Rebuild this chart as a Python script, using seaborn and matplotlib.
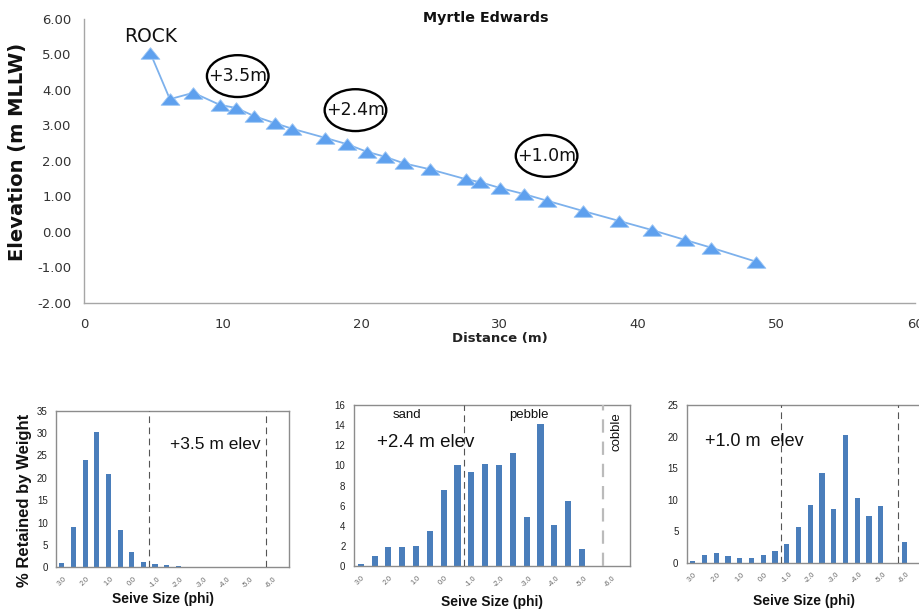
import matplotlib
matplotlib.use("Agg")
import matplotlib.pyplot as plt
from matplotlib.patches import Ellipse
import numpy as np
import pandas as pd
import seaborn as sns

# ---------------- data ----------------
distance = [4.8, 6.2, 7.9, 9.8, 11.0, 12.3, 13.8, 15.0, 17.4, 19.0, 20.4, 21.7, 23.1,
            25.0, 27.6, 28.6, 30.0, 31.8, 33.4, 36.0, 38.6, 41.0, 43.4, 45.3, 48.5]
elevation = [5.03, 3.74, 3.92, 3.58, 3.49, 3.26, 3.06, 2.91, 2.65, 2.47, 2.26, 2.12, 1.93,
             1.76, 1.48, 1.40, 1.24, 1.06, 0.88, 0.59, 0.31, 0.05, -0.23, -0.45, -0.84]

site_labels = ["+3.5m", "+2.4m", "+1.0m"]
site_label_x = [11.1, 19.6, 33.4]
site_label_y = [4.39, 3.43, 2.14]

phi_classes = ["3.0", "2.5", "2.0", "1.5", "1.0", "0.5", "0.0", "-0.5", "-1.0", "-1.5",
               "-2.0", "-2.5", "-3.0", "-3.5", "-4.0", "-4.5", "-5.0", "-5.5", "-6.0", "-6.5"]
phi_tick_labels = ["3.0", "2.0", "1.0", "0.0", "-1.0", "-2.0", "-3.0", "-4.0", "-5.0", "-6.0"]

pct_35 = [1.0, 9.0, 24.0, 30.2, 20.8, 8.3, 3.5, 1.2, 0.7, 0.5, 0.3, 0, 0, 0, 0, 0, 0, 0, 0, 0]
pct_24 = [0.2, 1.0, 1.9, 1.9, 2.0, 3.5, 7.6, 10.0, 9.3, 10.1, 10.0, 11.2, 4.9, 14.1, 4.1,
          6.5, 1.7, 0, 0, 0]
pct_10 = [0.2, 1.2, 1.6, 1.0, 0.7, 0.7, 1.2, 1.9, 2.9, 5.6, 9.1, 14.2, 8.5, 20.3, 10.3,
          7.4, 9.0, 0, 3.3, 0]

panel_titles = ["+3.5 m elev", "+2.4 m elev", "+1.0 m  elev"]

# ---------------- style ----------------
sns.set_style("white")
plt.rcParams["font.family"] = ["DejaVu Sans"]

fig = plt.figure(figsize=(9.19, 6.11), dpi=100)

# ---------------- main profile ----------------
ax = fig.add_axes([84 / 919, 1 - 302.7 / 611, 831 / 919, 283.7 / 611])
prof = pd.DataFrame({"Distance": distance, "Elevation": elevation})
tri = [(0, 0.62), (-1, -0.62), (1, -0.62), (0, 0.62)]
sns.lineplot(data=prof, x="Distance", y="Elevation", ax=ax, sort=False,
             color="#7DB1EC", linewidth=1.3, marker=tri, markersize=13.5,
             markerfacecolor="#5EA0EE", markeredgecolor="#9CC6F5", markeredgewidth=0.6,
             zorder=3)

ax.set_xlim(0, 60)
ax.set_ylim(-2, 6)
ax.set_xticks(np.arange(0, 61, 10))
ax.set_yticks(np.arange(-2, 6.01, 1))
ax.set_yticklabels([f"{v:.2f}" for v in np.arange(-2, 6.01, 1)])
for s in ["top", "right"]:
    ax.spines[s].set_visible(False)
for s in ["left", "bottom"]:
    ax.spines[s].set_color("#A6A6A6")
    ax.spines[s].set_linewidth(1.0)
ax.tick_params(axis="both", which="major", labelsize=9.5, colors="#A6A6A6",
               labelcolor="#333333", length=5, width=1.0, direction="out")
ax.tick_params(axis="x", pad=6)
ax.tick_params(axis="y", pad=4)
ax.set_xlabel("Distance (m)", fontsize=9.5, fontweight="bold", color="#222222")
ax.xaxis.set_label_coords(0.5, -0.103)
ax.set_ylabel("Elevation (m MLLW)", fontsize=14, fontweight="bold", color="#111111")
ax.yaxis.set_label_coords(-0.0686, 0.53)

fig.text(486 / 919, 1 - 18 / 611, "Myrtle Edwards", ha="center", va="center",
         fontsize=10.3, fontweight="bold", color="#111111")

ax.text(4.84, 5.52, "ROCK", ha="center", va="center", fontsize=13.5, color="#111111")
for lab, lx, ly in zip(site_labels, site_label_x, site_label_y):
    ax.add_patch(Ellipse((lx, ly), width=4.45, height=1.18, fill=False,
                         edgecolor="black", linewidth=1.7, zorder=4))
    ax.text(lx, ly, lab, ha="center", va="center", fontsize=12.5, color="#111111",
            zorder=5)

# ---------------- sieve histograms ----------------
panels = [
    (pct_35, [56 / 919, 1 - 567.3 / 611, 233 / 919, 156.6 / 611], 35, 5, 0.46, -0.158),
    (pct_24, [353.8 / 919, 1 - 566 / 611, 276.6 / 919, 161 / 611], 16, 2, 0.5, -0.178),
    (pct_10, [686.8 / 919, 1 - 562.7 / 611, 235.2 / 919, 157.7 / 611], 25, 5, 0.5, -0.198),
]
arial = ["Liberation Sans", "DejaVu Sans"]
bar_color = "#4A7EBB"

axes_small = []
for i, (vals, pos, ymax, ystep, lx, ly) in enumerate(panels):
    a = fig.add_axes(pos)
    df = pd.DataFrame({"phi": phi_classes, "pct": vals})
    sns.barplot(data=df, x="phi", y="pct", order=phi_classes, ax=a,
                color=bar_color, saturation=1, width=0.44, linewidth=0,
                edgecolor="none", zorder=2)
    a.set_xlim(-0.5, len(phi_classes) - 0.5)
    a.set_ylim(0, ymax)
    a.set_yticks(np.arange(0, ymax + 0.01, ystep))
    a.set_yticklabels([f"{int(v)}" for v in np.arange(0, ymax + 0.01, ystep)],
                      family=arial, fontsize=7, color="#222222")
    a.set_xticks(np.arange(0, 19, 2))
    a.set_xticklabels(phi_tick_labels, rotation=45, family=arial, fontsize=5.2,
                      color="#666666", ha="center", va="top")
    a.set_xticks(np.arange(-0.5, len(phi_classes), 1), minor=True)
    a.tick_params(axis="x", which="major", length=0, pad=6)
    a.tick_params(axis="x", which="minor", length=3, width=0.8, color="#8C8C8C")
    a.tick_params(axis="y", which="major", length=3, width=0.8, color="#8C8C8C", pad=3)
    for s in a.spines.values():
        s.set_visible(True)
        s.set_color("#8C8C8C")
        s.set_linewidth(1.0)
    a.set_xlabel("Seive Size (phi)", family=arial, fontsize=10, fontweight="bold",
                 color="#111111")
    a.xaxis.set_label_coords(lx, ly)
    a.set_ylabel("")
    # dashed class boundaries
    c2 = "#BBBBBB" if i == 1 else "#555555"
    lw2 = 1.6 if i == 1 else 0.8
    a.axvline(7.5, color="#555555", linestyle=(0, (6, 4)), linewidth=0.8, zorder=3)
    a.axvline(17.5, color=c2, linestyle=(0, (6, 4)), linewidth=lw2, zorder=3)
    axes_small.append(a)

a1, a2, a3 = axes_small
a1.set_ylabel("% Retained by Weight", family=arial, fontsize=12, fontweight="bold",
              color="#111111")
a1.yaxis.set_label_coords(-0.103, 0.43)

a1.text(0.685, 0.785, panel_titles[0], transform=a1.transAxes, ha="center", va="center",
        family=arial, fontsize=12.5, color="#111111")
a2.text(0.26, 0.77, panel_titles[1], transform=a2.transAxes, ha="center", va="center",
        family=arial, fontsize=13.5, color="#111111")
a3.text(0.285, 0.77, panel_titles[2], transform=a3.transAxes, ha="center", va="center",
        family=arial, fontsize=13, color="#111111")

a2.text(0.193, 0.935, "sand", transform=a2.transAxes, ha="center", va="center",
        family=arial, fontsize=9.5, color="#111111")
a2.text(0.634, 0.935, "pebble", transform=a2.transAxes, ha="center", va="center",
        family=arial, fontsize=9.5, color="#111111")
a2.text(0.948, 0.835, "cobble", transform=a2.transAxes, ha="center", va="center",
        rotation=90, family=arial, fontsize=9.5, color="#111111")

fig.savefig("out.png", dpi=100)
